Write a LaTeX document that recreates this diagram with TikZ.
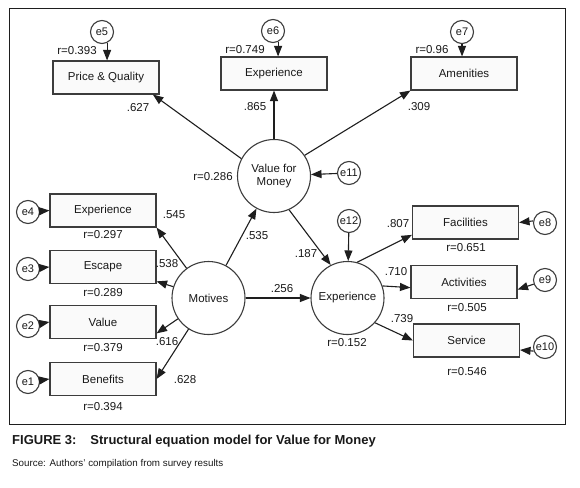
\documentclass[tikz,border=0pt]{standalone}
\usepackage{fontspec}
\setmainfont{Liberation Sans}
\usetikzlibrary{arrows.meta, positioning}
\definecolor{cline}{RGB}{30, 30, 30}
\definecolor{cbox}{RGB}{60, 60, 60}
\definecolor{cfill}{RGB}{250, 250, 250}
\definecolor{ctext}{RGB}{25, 25, 25}

\begin{document}
\begin{tikzpicture}[
  x=1pt, y=-1pt,
  font=\fontsize{11.5}{13}\selectfont,
  obs/.style={rectangle, draw=cbox, line width=1.1pt, fill=cfill, minimum width=106pt, minimum height=33pt, inner sep=0pt, text=ctext},
  latent/.style={circle, draw=cbox, line width=1.1pt, fill=white, minimum size=73pt, inner sep=0pt, align=center, text=ctext},
  err/.style={circle, draw=cbox, line width=1.1pt, fill=white, minimum size=23pt, inner sep=0pt, font=\fontsize{11}{12}\selectfont, text=ctext},
  effect/.style={-{Triangle[length=10.5pt, width=8pt]}, line width=1.1pt, color=cline},
  coef/.style={text=ctext, inner sep=0pt},
]
\useasboundingbox (0,0) rectangle (580,487);

% ---- Frame ----
\draw[line width=1pt, color=cline] (9,9) rectangle (565,424);

% ---- Latent variables ----
\node[latent] (vfm) at (274,176) {Value for\\Money};
\node[latent] (mot) at (208.5,298) {Motives};
\node[latent] (expc) at (347.5,298) {Experience};

% ---- Top indicators ----
\node[obs] (pq) at (106,77.5) {Price \& Quality};
\node[obs] (vexp) at (274,73.5) {Experience};
\node[obs] (amen) at (464,73.5) {Amenities};

% ---- Left indicators ----
\node[obs] (mexp) at (103,210.5) {Experience};
\node[obs] (esc) at (103,267) {Escape};
\node[obs] (val) at (103,322) {Value};
\node[obs] (ben) at (103,379) {Benefits};

% ---- Right indicators ----
\node[obs] (fac) at (465.5,222.5) {Facilities};
\node[obs] (act) at (464,282) {Activities};
\node[obs] (srv) at (466.5,340.5) {Service};

% ---- Error terms ----
\node[err] (e5) at (102,32) {e5};
\node[err] (e6) at (273,31) {e6};
\node[err] (e7) at (462,32) {e7};
\node[err] (e4) at (28,212) {e4};
\node[err] (e3) at (28,269) {e3};
\node[err] (e2) at (28,326) {e2};
\node[err] (e1) at (28,382) {e1};
\node[err] (e8) at (545,223) {e8};
\node[err] (e9) at (545,280) {e9};
\node[err] (e10) at (545,347) {e10};
\node[err] (e11) at (349,173) {e11};
\node[err] (e12) at (349,221) {e12};

% ---- Arrows: error terms ----
\draw[effect] (e5.-65) -- (e5.-65 |- pq.north);
\draw[effect] (e6.-65) -- (e6.-65 |- vexp.north);
\draw[effect] (e7.south) -- (e7.south |- amen.north);
\draw[effect] (e4) -- (mexp.west);
\draw[effect] (e3) -- (esc.west);
\draw[effect] (e2) -- (val.west);
\draw[effect] (e1) -- (ben.west);
\draw[effect] (e8.170) -- (fac.east);
\draw[effect] (e9.200) -- (act.-8);
\draw[effect] (e10.200) -- (srv.-10);
\draw[effect] (e11) -- (vfm);
\draw[effect] (e12) -- (expc);

% ---- Arrows: Value for Money ----
\draw[effect] (vfm.152) -- (pq.-20);
\draw[effect] (vfm.north) -- (vexp.south);
\draw[effect] (vfm.34) -- (amen.south west);
\draw[effect] (vfm.-66) -- (expc.117);

% ---- Arrows: Motives ----
\draw[effect] (mot) -- (mexp.south east);
\draw[effect] (mot) -- (esc.-15);
\draw[effect] (mot) -- (val.-12);
\draw[effect] (mot) -- (ben.east);
\draw[effect] (mot) -- (vfm);
\draw[effect] (mot) -- (expc);

% ---- Arrows: Experience ----
\draw[effect] (expc.75) -- (fac.193);
\draw[effect] (expc.19) -- (act.186);
\draw[effect] (expc.-42) -- (srv.west);

% ---- Coefficients ----
\node[coef] at (77,51) {r=0.393};
\node[coef] at (138,108) {.627};
\node[coef] at (245,50) {r=0.749};
\node[coef] at (255,107) {.865};
\node[coef] at (432,50) {r=0.96};
\node[coef] at (419,107) {.309};
\node[coef] at (213,177) {r=0.286};
\node[coef] at (174,215) {.545};
\node[coef] at (167,264) {.538};
\node[coef] at (167,342) {.616};
\node[coef] at (185,380) {.628};
\node[coef] at (257,236) {.535};
\node[coef] at (306,254) {.187};
\node[coef] at (282,289) {.256};
\node[coef] at (103,235) {r=0.297};
\node[coef] at (103,293) {r=0.289};
\node[coef] at (103,348) {r=0.379};
\node[coef] at (103,407) {r=0.394};
\node[coef] at (398,224) {.807};
\node[coef] at (466,248) {r=0.651};
\node[coef] at (396,272) {.710};
\node[coef] at (467,308) {r=0.505};
\node[coef] at (402,319) {.739};
\node[coef] at (467,372) {r=0.546};
\node[coef] at (347,343) {r=0.152};

% ---- Caption ----
\node[anchor=west, inner sep=0pt, text=ctext, font=\fontsize{13}{15}\selectfont\bfseries] (cap) at (12,441)
  {FIGURE 3:\hspace{14pt}Structural equation model for Value for Money};
\node[anchor=west, inner sep=0pt, text=ctext, font=\fontsize{9.8}{11}\selectfont] (src) at (12,464)
  {Source: Authors' compilation from survey results};

\end{tikzpicture}
\end{document}
